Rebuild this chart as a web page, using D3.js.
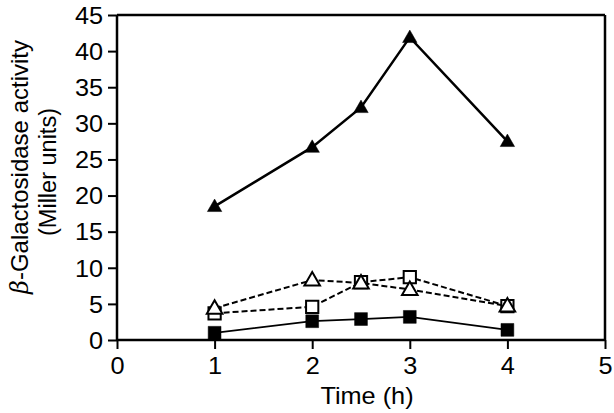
<!DOCTYPE html>
<html><head><meta charset="utf-8">
<script src="https://cdn.jsdelivr.net/npm/d3@7"></script>
<style>body{margin:0;background:#fff}svg{display:block}text{font-family:"Liberation Sans",Arial,sans-serif;fill:#000}</style>
</head><body>
<svg id="c" width="614" height="413"></svg>
<script>
const times = [1, 2, 2.5, 3, 4];
const filledTriangle = [18.5, 26.7, 32.2, 41.9, 27.5];
const openTriangle = [4.4, 8.3, 7.9, 7.0, 4.7];
const openSquare = [3.7, 4.6, 8.0, 8.7, 4.7];
const filledSquare = [1.0, 2.6, 2.9, 3.2, 1.4];
const xTicks = [0, 1, 2, 3, 4, 5];
const yTicks = [0, 5, 10, 15, 20, 25, 30, 35, 40, 45];

const svg = d3.select("#c");
const L = 117, R = 605, T = 15, B = 340;
const x = d3.scaleLinear().domain([0, 5]).range([L, R]);
const y = d3.scaleLinear().domain([0, 45]).range([B, T]);
const FS = 23;
const SX = 1.1;

// frame
svg.append("line").attr("x1", L).attr("x2", R).attr("y1", T).attr("y2", T).attr("stroke", "#000").attr("stroke-width", 2.5);
svg.append("line").attr("x1", R).attr("x2", R).attr("y1", T).attr("y2", B).attr("stroke", "#000").attr("stroke-width", 2.5);

const xa = svg.append("g").attr("transform", `translate(0,${B})`)
  .call(d3.axisBottom(x).tickValues(xTicks).tickSize(9).tickPadding(6).tickFormat(d3.format("d")));
const ya = svg.append("g").attr("transform", `translate(${L},0)`)
  .call(d3.axisLeft(y).tickValues(yTicks).tickSize(9).tickPadding(5).tickFormat(d3.format("d")));
[xa, ya].forEach(a => {
  a.select(".domain").attr("stroke-width", 2.5);
  a.selectAll(".tick line").attr("stroke-width", 2);
  a.selectAll("text").attr("font-size", FS).attr("font-family", '"Liberation Sans",Arial,sans-serif');
});
xa.select(".domain").attr("d", `M${L},0H${R}`);
ya.select(".domain").attr("d", `M0,${T}V${B}`);
xa.selectAll(".tick text").attr("dy", null).attr("y", 34).attr("x", 0).attr("transform", `scale(${SX},1)`);
ya.selectAll(".tick text").attr("dy", "0.36em").attr("transform", `scale(${SX},1)`).attr("x", -14/SX);

// axis titles
svg.append("text").attr("transform", `translate(367,404) scale(${SX},1)`).attr("text-anchor", "middle")
  .attr("font-size", FS).text("Time (h)");
const yl = svg.append("text").attr("transform", "translate(28,167) rotate(-90)").attr("text-anchor", "middle").attr("font-size", 24);
yl.append("tspan").attr("font-family", '"DejaVu Serif",serif').attr("font-style", "italic").text("β");
yl.append("tspan").text("-Galactosidase activity");
svg.append("text").attr("transform", "translate(56,172) rotate(-90)").attr("text-anchor", "middle").attr("font-size", 23.5).text("(Miller units)");

const mk = (vals) => times.map((t, i) => ({ t, v: vals[i] }));
const line = d3.line().x(d => x(d.t)).y(d => y(d.v));

function series(vals, opts) {
  svg.append("path").datum(mk(vals)).attr("d", line).attr("fill", "none").attr("stroke", "#000")
    .attr("stroke-width", opts.lw).attr("stroke-dasharray", opts.dash || null);
}
function markers(vals, type, filled) {
  const sym = type === "tri"
    ? d3.symbol().type(d3.symbolTriangle).size(filled ? 90 : 105)
    : d3.symbol().type(d3.symbolSquare).size(filled ? 165 : 150);
  svg.append("g").selectAll("path").data(mk(vals)).join("path")
    .attr("transform", d => `translate(${x(d.t)},${y(d.v) + (type === "tri" ? 1 : 0)})`)
    .attr("d", sym)
    .attr("fill", filled ? "#000" : "#fff").attr("stroke", "#000").attr("stroke-width", filled ? 0.5 : 2);
}
series(filledSquare, { lw: 1.8 });
series(openSquare, { lw: 2, dash: "6,3" });
series(openTriangle, { lw: 2, dash: "6,3" });
series(filledTriangle, { lw: 2.5 });
markers(filledSquare, "sq", true);
markers(openSquare, "sq", false);
markers(openTriangle, "tri", false);
markers(filledTriangle, "tri", true);
</script>
</body></html>
